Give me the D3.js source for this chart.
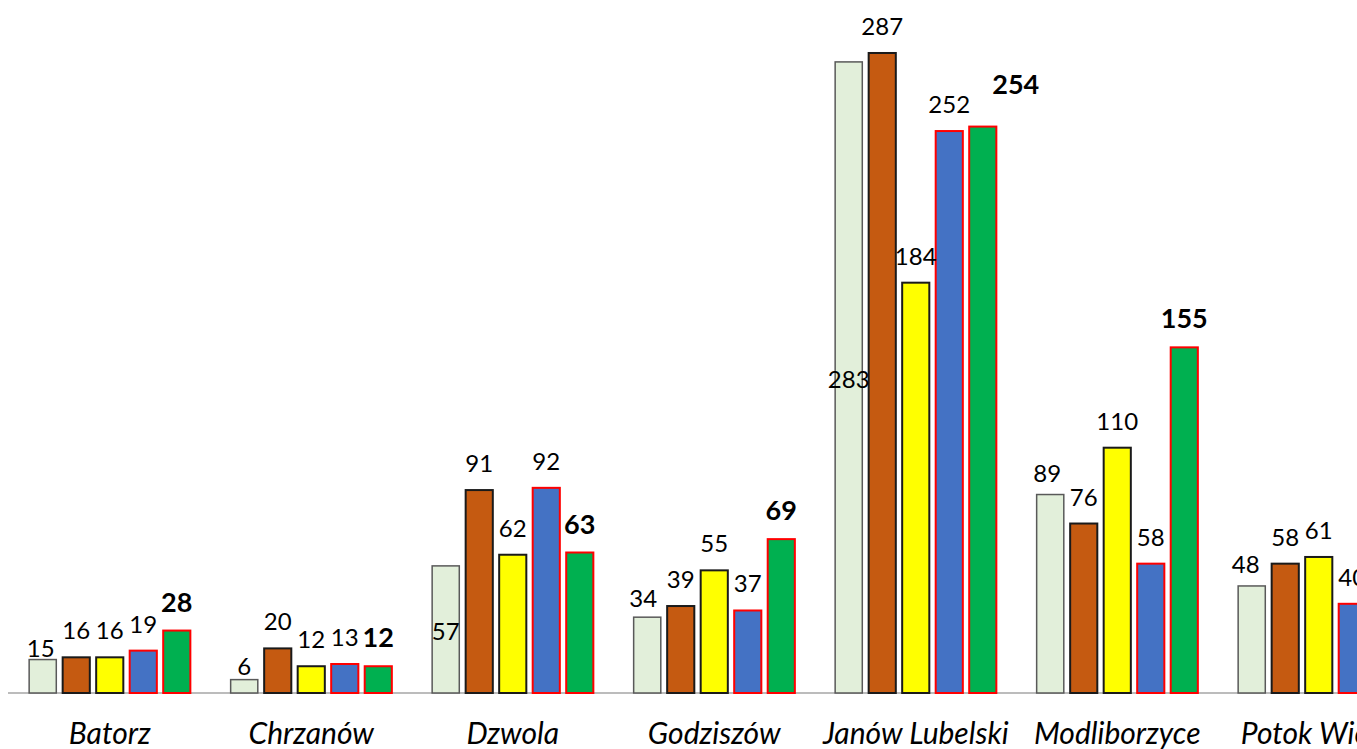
<!DOCTYPE html>
<html>
<head>
<meta charset="utf-8">
<script src="https://cdn.jsdelivr.net/npm/d3@7"></script>
<style>
  body { margin: 0; background: #fff; }
  svg { display: block; }
</style>
</head>
<body>
<div id="chart"></div>
<script>
// data
var gminy = ["Batorz", "Chrzanów", "Dzwola", "Godziszów", "Janów Lubelski", "Modliborzyce", "Potok Wielki"];
var series = ["s1", "s2", "s3", "s4", "s5"];
var s1 = [15, 6, 57, 34, 283, 89, 48];
var s2 = [16, 20, 91, 39, 287, 76, 58];
var s3 = [16, 12, 62, 55, 184, 110, 61];
var s4 = [19, 13, 92, 37, 252, 58, 40];
var s5 = [28, 12, 63, 69, 254, 155, 52];

var fills = ["#E2EFDA", "#C55A11", "#FFFF00", "#4472C4", "#00B050"];
var strokes = ["#595959", "#1a1a1a", "#1a1a1a", "#FF0000", "#FF0000"];

// hand-moved labels (dx, dy relative to the usual spot above the bar)
var labelNudge = {
    "0-0": [-2, 15], "1-0": [0, 13], "2-0": [0, 92], "3-0": [-4, 8],
    "4-0": [0, 344], "5-0": [-3, 5], "6-0": [-6, 5], "4-4": [33, -14]
};

var svgWidth = 1357;
var svgHeight = 749;

var svg = d3.select("#chart")
    .append("svg")
    .attr("width", svgWidth)
    .attr("height", svgHeight);

var table = gminy.map(function(g, i) {
    return { gmina: g, values: [s1[i], s2[i], s3[i], s4[i], s5[i]] };
});

var x0 = d3.scaleBand()
    .domain(gminy)
    .range([9, 1419.5])
    .paddingInner(0.2)
    .paddingOuter(0.1);

var x1 = d3.scaleBand()
    .domain(series)
    .range([0, x0.bandwidth()])
    .paddingInner(0.19);

var y = d3.scaleLinear()
    .domain([0, 300])
    .range([693, 24]);

// baseline
svg.append("line")
    .attr("x1", 8)
    .attr("x2", svgWidth)
    .attr("y1", y(0))
    .attr("y2", y(0))
    .attr("stroke", "#A6A6A6")
    .attr("stroke-width", 1.5);

var groups = svg.selectAll("g.grp")
    .data(table)
    .enter()
    .append("g")
    .attr("class", "grp")
    .attr("transform", d => `translate(${x0(d.gmina)},0)`);

groups.selectAll("rect")
    .data(d => d.values.map((v, j) => ({ v: v, j: j })))
    .enter()
    .append("rect")
    .attr("x", d => x1(series[d.j]))
    .attr("y", d => y(d.v))
    .attr("width", x1.bandwidth())
    .attr("height", d => y(0) - y(d.v))
    .attr("fill", d => fills[d.j])
    .attr("stroke", d => strokes[d.j])
    .attr("stroke-width", d => d.j == 0 ? 1.5 : 2);

// value labels
groups.each(function(d, i) {
    d3.select(this).selectAll("text.val")
        .data(d.values)
        .enter()
        .append("text")
        .attr("class", "val")
        .attr("x", function(v, j) {
            var n = labelNudge[i + "-" + j] || [0, 0];
            return x1(series[j]) + x1.bandwidth() / 2 + n[0];
        })
        .attr("y", function(v, j) {
            var n = labelNudge[i + "-" + j] || [0, 0];
            return y(v) - (j == 4 ? 19 : 18) + n[1];
        })
        .attr("text-anchor", "middle")
        .style("font-family", "Lato, 'Open Sans', sans-serif")
        .style("font-size", (v, j) => j == 4 ? "27px" : "24px")
        .style("font-weight", (v, j) => j == 4 ? "bold" : "normal")
        .attr("fill", "#000")
        .text(v => v);
});

// category labels
svg.selectAll("text.cat")
    .data(gminy)
    .enter()
    .append("text")
    .attr("class", "cat")
    .attr("x", d => x0(d) + x0.bandwidth() / 2)
    .attr("y", 744)
    .attr("text-anchor", "middle")
    .style("font-family", "Lato, 'Open Sans', sans-serif")
    .style("font-style", "italic")
    .style("font-size", "30px")
    .attr("fill", "#000")
    .text(d => d);
</script>
</body>
</html>
